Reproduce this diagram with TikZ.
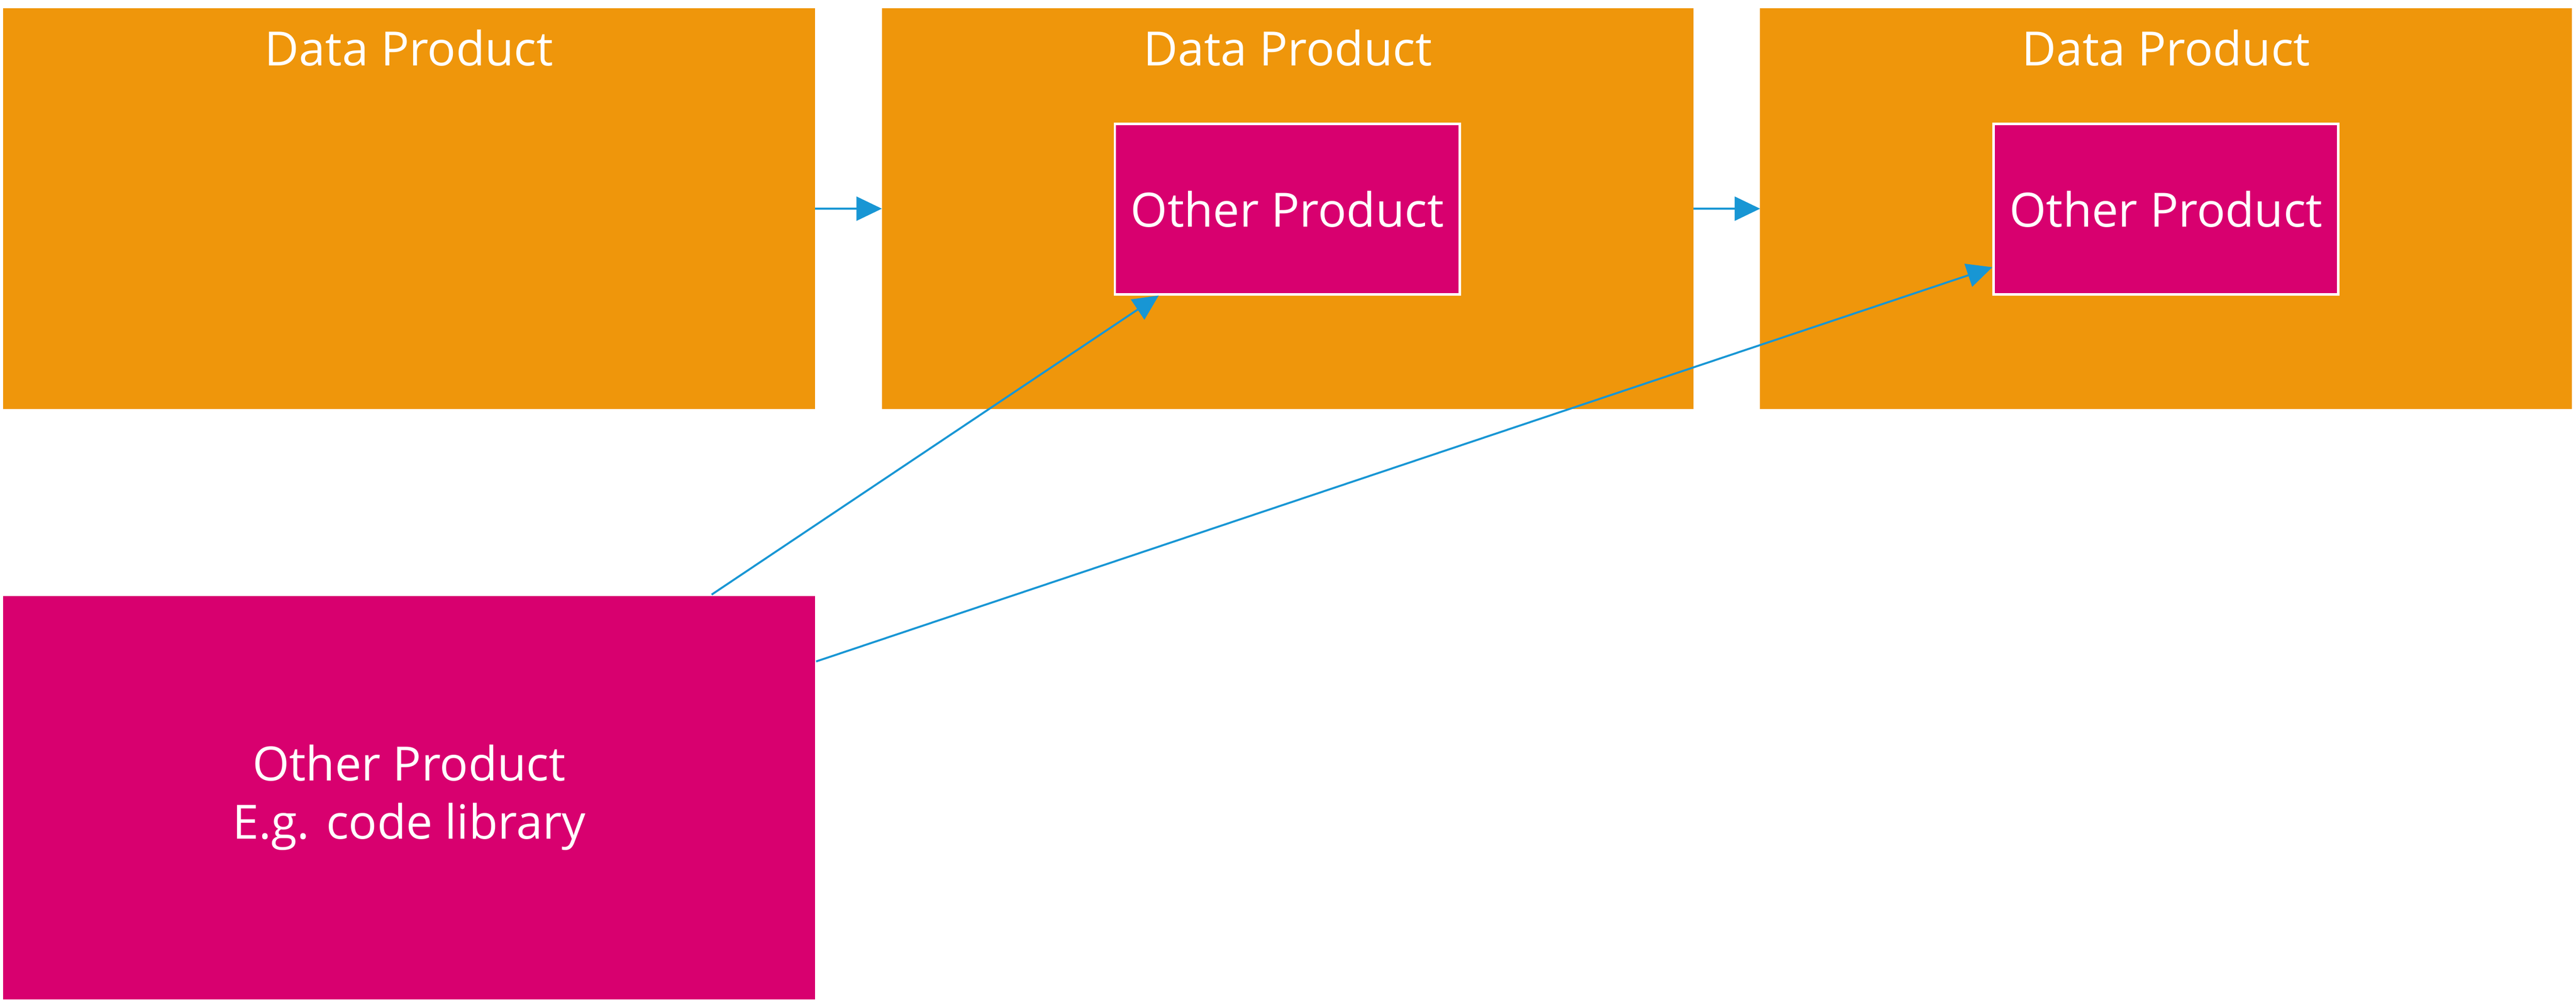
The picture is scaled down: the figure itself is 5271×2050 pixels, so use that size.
\documentclass[tikz,border=0pt]{standalone}
\usepackage{fontspec}
\setmainfont{Open Sans}
\usetikzlibrary{arrows.meta}
\definecolor{dporange}{HTML}{EF960B}
\definecolor{dppink}{HTML}{D8006F}
\definecolor{dpblue}{HTML}{1896D4}
\begin{document}
\begin{tikzpicture}[x=0.01cm, y=-0.01cm]
	\tikzstyle{dataproduct}=[rectangle, fill=dporange, minimum width=16.6cm, minimum height=8.2cm, inner sep=0pt, outer sep=0pt]
	\tikzstyle{other}=[rectangle, fill=dppink, draw=white, line width=0.05cm, minimum width=7.05cm, minimum height=3.48cm, text=white, font=\fontsize{27.5}{34}\selectfont]
	\tikzstyle{heading}=[anchor=base, inner sep=0pt, text=white, font=\fontsize{27.5}{34}\selectfont]
	\useasboundingbox (0,0) rectangle (5271,2050);

	\node[dataproduct] (first) at (837,427) {};
	\node[dataproduct] (second) at (2635,427) {};
	\node[dataproduct] (third) at (4432,427) {};

	\node[heading] (firsttitle) at (837,134) {Data Product};
	\node[heading] (secondtitle) at (2635,134) {Data Product};
	\node[heading] (thirdtitle) at (4432,134) {Data Product};

	\node[other] (secondother) at (2634,428) {Other Product};
	\node[other] (thirdother) at (4432,428) {Other Product};

	\node[other, draw=none, minimum width=16.6cm, minimum height=8.25cm, align=center] (library) at (837,1632) {
		Other Product\\
		E.g. code library
	};

	\path[-{Triangle[length=0.52cm, width=0.49cm]}, dpblue, line width=0.04cm]
		(first) edge (second)
		(second) edge (third)
		(library) edge (secondother)
		(library) edge (thirdother);

\end{tikzpicture}
\end{document}
